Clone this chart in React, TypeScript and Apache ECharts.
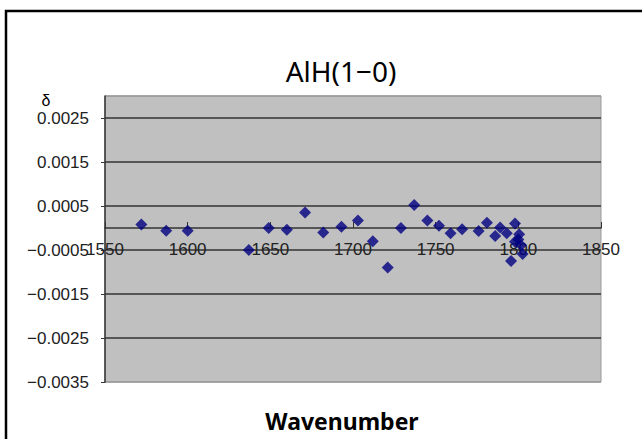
import React, { useEffect, useRef } from "react";
import * as echarts from "echarts";

const titleText = "AlH(1\u22120)";
const yName = "δ";
const xName = "Wavenumber";

const wavenumbers = [
  1572, 1587, 1600, 1637, 1649, 1660, 1671, 1682, 1693, 1703, 1712, 1721, 1729,
  1737, 1745, 1752, 1759, 1766, 1776, 1781, 1786, 1789, 1793, 1798, 1800.5,
  1800, 1798, 1801.6, 1802.6, 1795.6,
];
const deltas = [
  0.00008, -0.00006, -0.00006, -0.0005, 0.0, -0.00004, 0.00035, -0.0001,
  0.00003, 0.00017, -0.0003, -0.0009, 0.0, 0.00052, 0.00017, 0.00005,
  -0.00012, -0.00003, -0.00007, 0.00012, -0.00018, 0.00001, -0.00012, 0.0001,
  -0.00014, -0.00026, -0.00031, -0.00039, -0.00059, -0.00075,
];

const xMin = 1550;
const xMax = 1850;
const xStep = 50;
const yMin = -0.0035;
const yMax = 0.003;
const yStep = 0.001;

const W = 642;
const H = 439;
const gridTop = 96;
const gridBottom = 57;

export default function App() {
  const ref = useRef<HTMLDivElement>(null);
  useEffect(() => {
    document.body.style.margin = "0";
    const chart = echarts.init(ref.current!, null, { renderer: "svg" });
    const data = wavenumbers.map((w, i) => [w, deltas[i]]);
    const gridH = H - gridTop - gridBottom;
    const zeroOffset = -((0 - yMin) / (yMax - yMin)) * gridH;
    chart.setOption({
      animation: false,
      backgroundColor: "#ffffff",
      grid: {
        left: 105,
        right: 41,
        top: gridTop,
        bottom: gridBottom,
        show: true,
        backgroundColor: "#c0c0c0",
        borderColor: "#9a9a9a",
        borderWidth: 1,
      },
      xAxis: {
        type: "value",
        position: "bottom",
        offset: zeroOffset,
        min: xMin,
        max: xMax,
        interval: xStep,
        axisLine: { onZero: false, lineStyle: { color: "#333333", width: 1.5 } },
        axisTick: { show: true, inside: true, length: 6, lineStyle: { color: "#333333", width: 1 } },
        axisLabel: {
          color: "#222222",
          fontFamily: "Liberation Sans",
          fontSize: 17,
          margin: 13,
          formatter: (v: number) => String(v),
        },
        splitLine: { show: false },
      },
      yAxis: {
        type: "value",
        min: yMin,
        max: yMax,
        interval: yStep,
        axisLine: { show: true, onZero: false, lineStyle: { color: "#333333", width: 1.5 } },
        axisTick: { show: true, inside: false, length: 4, lineStyle: { color: "#333333" } },
        axisLabel: {
          color: "#222222",
          fontFamily: "Liberation Sans",
          fontSize: 17,
          margin: 16,
          showMaxLabel: false,
          formatter: (v: number) => (v < 0 ? "\u2212" : "") + Math.abs(v).toFixed(4),
        },
        splitLine: {
          show: true,
          lineStyle: {
            color: ["#9a9a9a", "#333333", "#333333", "#333333", "#333333", "#333333", "#333333", "#9a9a9a"],
            width: 1.5,
          },
        },
      },
      series: [
        {
          type: "scatter",
          data,
          symbol: "diamond",
          symbolSize: 12,
          itemStyle: { color: "#000080" },
        },
      ],
      graphic: [
        {
          type: "rect",
          shape: { x: 6, y: 11, width: 700, height: 500 },
          style: { fill: "none", stroke: "#000000", lineWidth: 2.5 },
          silent: true,
        },
        {
          type: "text",
          x: 341,
          y: 71,
          style: {
            text: titleText,
            fontFamily: "Noto Sans",
            fontSize: 28,
            fill: "#000000",
            textAlign: "center",
            textVerticalAlign: "middle",
          },
        },
        {
          type: "text",
          x: 46,
          y: 100,
          style: {
            text: yName,
            fontFamily: "Liberation Sans",
            fontSize: 16,
            fill: "#000000",
            textAlign: "center",
            textVerticalAlign: "middle",
          },
        },
        {
          type: "text",
          x: 342,
          y: 421,
          style: {
            text: xName,
            fontFamily: "Noto Sans",
            fontSize: 23,
            fontWeight: "bold",
            fill: "#000000",
            textAlign: "center",
            textVerticalAlign: "middle",
          },
        },
      ],
    });
    return () => chart.dispose();
  }, []);
  return <div ref={ref} style={{ width: W, height: H }} />;
}
